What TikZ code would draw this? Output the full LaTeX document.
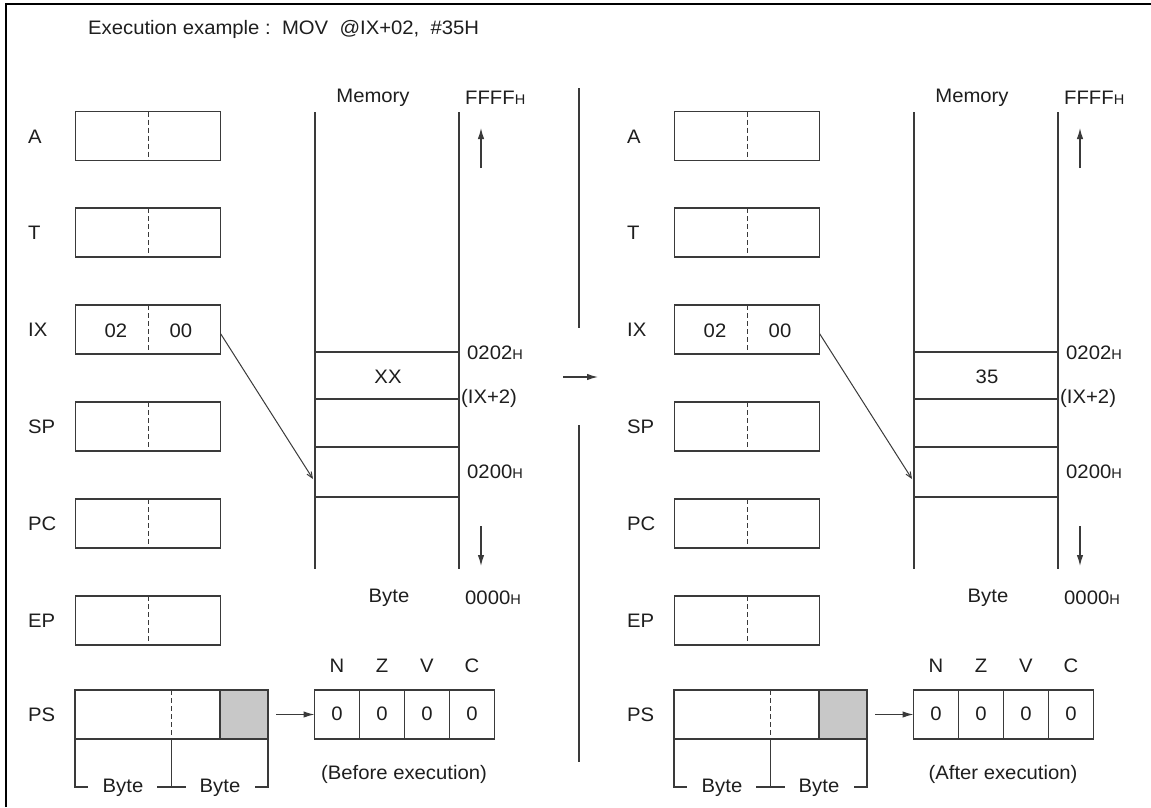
\documentclass[tikz,border=0pt]{standalone}
\usepackage{fontspec}
\setmainfont[FakeStretch=1.04]{Liberation Sans}
\usetikzlibrary{arrows.meta}
\definecolor{ln}{HTML}{3A3A3A}
\definecolor{shade}{HTML}{C8C8C8}
\definecolor{tx}{HTML}{1E1E1E}
\tikzset{
  box/.style={draw=ln, line width=1.3pt, minimum width=145pt, minimum height=49pt, inner sep=0pt, outer sep=0pt},
  cell/.style={box, minimum width=45pt},
  txt/.style={font=\fontsize{19.5}{19.5}\selectfont, text=tx, inner sep=0pt},
  lbl/.style={txt, anchor=west},
  ln/.style={draw=ln, line width=1.3pt},
  dsh/.style={draw=ln, line width=1pt, dash pattern=on 5pt off 3pt},
  arr/.style={ln, -{Latex[length=11pt,width=6.5pt]}},
  thinarr/.style={ln, line width=1pt, -{Straight Barb[length=6pt,width=5pt]}},
}
\newcommand\Hs{{\fontsize{14}{14}\selectfont H}}
\newcommand\drawpanel[4]{%
\begin{scope}[xshift=#2]
  % register labels
  \node[lbl] (#1lA) at (28,137) {A};
  \node[lbl] (#1lT) at (28,233) {T};
  \node[lbl] (#1lIX) at (28,330) {IX};
  \node[lbl] (#1lSP) at (28,427) {SP};
  \node[lbl] (#1lPC) at (28,524) {PC};
  \node[lbl] (#1lEP) at (28,621) {EP};
  \node[lbl] (#1lPS) at (28,715) {PS};
  % register boxes
  \node[box] (#1A) at (148,136) {};
  \node[box] (#1T) at (148,232.5) {};
  \node[box] (#1IX) at (148,329.5) {};
  \node[box] (#1SP) at (148,426.5) {};
  \node[box] (#1PC) at (148,523.5) {};
  \node[box] (#1EP) at (148,620.5) {};
  \foreach \r in {A,T,IX,SP,PC,EP}{\draw[dsh] (#1\r.north) -- (#1\r.south);}
  \node[txt] (#1ixh) at (116,331) {02};
  \node[txt] (#1ixl) at (181,331) {00};
  % PS
  \node[box, minimum width=193pt] (#1PS) at (171.5,714.5) {};
  \node[box, minimum width=48pt, fill=shade, anchor=east] (#1PSg) at (#1PS.east) {};
  \draw[dsh] (#1PS.north) -- (#1PS.south);
  \draw[ln] (#1PS.south west) -- ++(0,48) -- ++(13,0);
  \node[txt] (#1b1) at (123,788) {Byte};
  \draw[ln] (157,787) -- (186,787);
  \draw[ln] (#1PS.south) -- ++(0,48);
  \node[txt] (#1b2) at (220,788) {Byte};
  \draw[ln] (#1PSg.south east) -- ++(0,48) -- ++(-13,0);
  % flags
  \node[cell] (#1fN) at (337,714.5) {};
  \node[cell] (#1fZ) at (382,714.5) {};
  \node[cell] (#1fV) at (427,714.5) {};
  \node[cell] (#1fC) at (472,714.5) {};
  \foreach \f in {fN,fZ,fV,fC}{\node[txt] at ([yshift=1pt]#1\f) {0};}
  \node[txt] (#1nN) at (337,666) {N};
  \node[txt] (#1nZ) at (382,666) {Z};
  \node[txt] (#1nV) at (427,666) {V};
  \node[txt] (#1nC) at (472,666) {C};
  \draw[arr] ([xshift=8pt]#1PSg.east) -- (#1fN.west);
  \node[txt] (#1cap) at (404,774) {#4};
  % memory
  \draw[ln] (315,112) -- (315,569);
  \draw[ln] (459,112) -- (459,569);
  \foreach \y in {352,399,447,497}{\draw[ln] (315,\y) -- (459,\y);}
  \node[txt] (#1mem) at (373,98) {Memory};
  \node[txt, anchor=west] (#1ffff) at (465,98) {FFFF\Hs};
  \node[txt] (#1val) at (388,377) {#3};
  \node[txt, anchor=west] (#1a202) at (467,353) {0202\Hs};
  \node[txt, anchor=west] (#1aix) at (461,398) {(IX+2)};
  \node[txt, anchor=west] (#1a200) at (467,472) {0200\Hs};
  \node[txt] (#1byte) at (389,598) {Byte};
  \node[txt, anchor=west] (#1a000) at (465,598) {0000\Hs};
  \coordinate (#1upb) at (481,168);
  \coordinate (#1upt) at (481,128);
  \draw[arr] (#1upb) -- (#1upt);
  \coordinate (#1dnt) at (481,526);
  \coordinate (#1dnb) at (481,566);
  \draw[arr] (#1dnt) -- (#1dnb);
  \coordinate (#1tgt) at (313,479);
  \draw[thinarr] ([yshift=-4pt]#1IX.east) -- (#1tgt);
\end{scope}}
\begin{document}
\begin{tikzpicture}[x=1pt,y=-1pt]
  \useasboundingbox (0,0) rectangle (1151,807);
  \fill[white] (0,0) rectangle (1151,807);
  \draw[draw=black, line width=2.4pt] (6,807) -- (6,4) -- (1151,4);
  \node[lbl] (title) at (88,29) {Execution example :\ \ MOV\ \ @IX+02,\ \ \#35H};
  \drawpanel{L}{0}{XX}{(Before execution)}
  \drawpanel{R}{599}{35}{(After execution)}
  \draw[ln] (579,88) -- (579,328);
  \draw[ln] (579,425) -- (579,762);
  \coordinate (ma) at (563,377);
  \coordinate (mb) at (598,377);
  \draw[arr] (ma) -- (mb);
\end{tikzpicture}
\end{document}
